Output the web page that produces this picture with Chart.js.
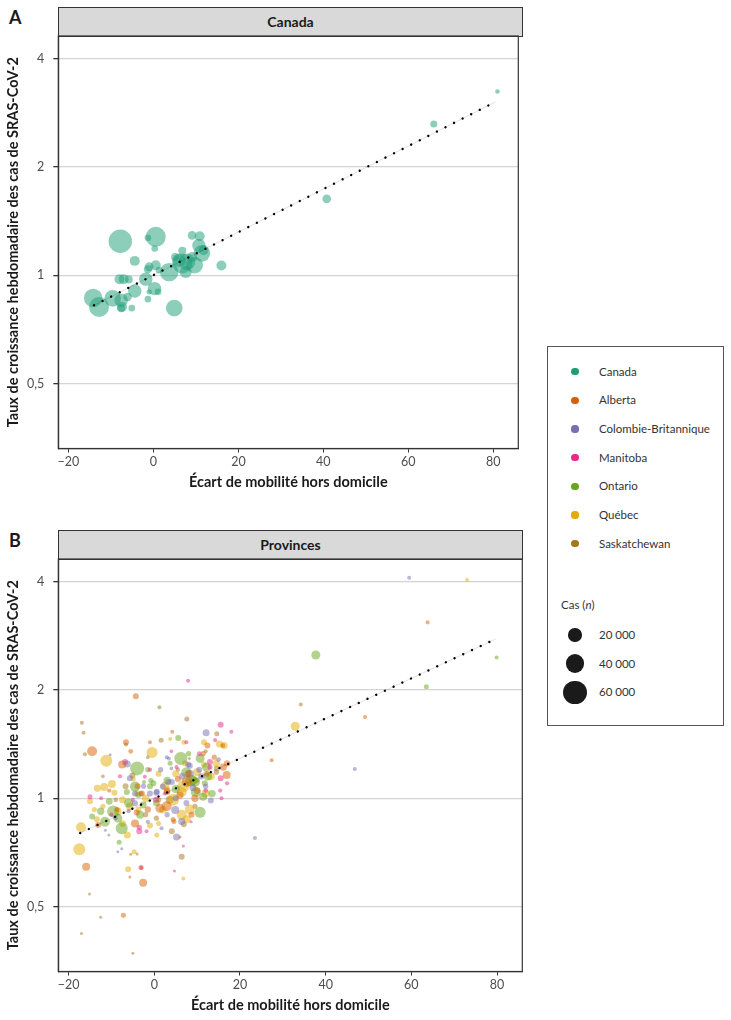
<!DOCTYPE html>
<html><head><meta charset="utf-8">
<script src="https://cdn.jsdelivr.net/npm/chart.js@4/dist/chart.umd.min.js"></script>
<style>
html,body{margin:0;padding:0;overflow:hidden;background:#fff;width:731px;height:1020px;font-family:Lato,"Open Sans",sans-serif;}
.abs{position:absolute;}
.letter{font-weight:bold;font-size:18px;color:#1a1a1a;line-height:20px;}
.strip{background:#d9d9d9;border:1px solid #333;box-sizing:border-box;text-align:center;font-weight:bold;font-size:14px;color:#1a1a1a;}
.lg{position:absolute;left:547px;top:346px;width:177px;height:380px;border:1px solid #555;box-sizing:border-box;}
.lt{position:absolute;font-size:11.5px;color:#333;line-height:16px;white-space:nowrap;}
.dot{position:absolute;border-radius:50%;}
</style></head>
<body>
<div class="abs letter" style="left:9px;top:7px">A</div>
<div class="abs strip" style="left:58px;top:7px;width:465px;height:30px;line-height:28px">Canada</div>
<canvas id="cA" class="abs" style="left:0;top:16px" width="530" height="480"></canvas>

<div class="abs letter" style="left:9px;top:530px">B</div>
<div class="abs strip" style="left:58px;top:530px;width:465px;height:30px;line-height:28px">Provinces</div>
<canvas id="cB" class="abs" style="left:0;top:539px" width="530" height="481"></canvas>

<div class="lg"></div>
<div id="legend"></div>

<script>
// ---------- data ----------
const xTicks = [-20, 0, 20, 40, 60, 80];
const yTicks = [0.5, 1, 2, 4];
const regions = ['Canada', 'Alberta', 'Colombie-Britannique', 'Manitoba', 'Ontario', 'Québec', 'Saskatchewan'];
const sizeLegend = [20000, 40000, 60000];

// [mobility gap, weekly growth rate, cases]
const canadaPts = [
  [-7.8,1.243,61000],[0.55,1.278,44500],[-1.3,1.27,4900],[0.3,1.186,4900],[-4.4,1.096,11100],
  [-14.2,0.865,38000],[-12.8,0.816,44500],[-9.6,0.862,30700],[-7.6,0.852,20000],[-7.4,0.816,11100],
  [-6.1,0.87,8200],[-5.1,0.81,4900],[-8.0,0.975,11100],[-7.0,0.975,11100],[-5.8,0.973,7100],
  [-4.4,0.904,20000],[-1.8,0.975,20000],[-1.3,0.858,4900],[-1.0,1.055,9000],[0.55,1.066,11100],
  [0.25,0.918,20000],[1.1,0.899,4900],[-1.0,0.899,3200],[4.9,0.81,30700],[3.7,1.02,38000],
  [6.8,1.078,44500],[6.0,1.10,20000],[7.9,1.089,30700],[9.7,1.066,30700],[7.6,1.02,16000],
  [9.1,1.124,11100],[11.4,1.15,30700],[10.7,1.21,20000],[9.1,1.29,8200],[10.9,1.283,11100],
  [11.8,1.173,11100],[16.0,1.064,11100],[6.8,1.17,7100],[5.1,1.124,7100],[-1.3,1.039,7100],
  [1.3,1.033,4900],[-7.6,0.81,7100],[40.8,1.63,8200],[66.0,2.63,5500],[81.0,3.24,2400]
];
const albertaPts = [
  [-4.3,1.92,4000],[63.8,3.08,1800],[49.2,1.68,1800],[27.4,1.275,1800],[-14.5,1.35,11100],
  [-6.6,1.43,4000],[-7.5,1.24,7100],[4.2,1.53,1800],[-1.0,1.43,1800],[12.4,1.40,4000],
  [16.1,1.22,5500],[16.9,1.16,7100],[12.2,1.17,4000],[7.6,1.11,11100],[1.3,0.938,9000],
  [2.9,0.95,11100],[-3.9,1.08,4000],[-4.1,0.912,4000],[-13.1,0.843,4000],[4.6,0.861,2800],
  [8.7,0.899,4000],[-15.9,0.645,7100],[-2.6,0.582,7100],[-4.5,0.85,7100],[4.4,0.873,2800],
  [6.0,0.78,1000],[-3.0,0.64,1800],[-7.2,0.473,2800],[-2.9,1.03,4000],[7.9,1.17,5500],
  [11.4,1.33,3000],[17.0,1.25,4500],[10.0,1.05,5000],[6.0,1.02,6000],
  [3.0,1.05,5000],[9.5,1.00,6000],[5.5,1.13,4000],[14.0,1.30,3000],[-8.7,0.93,3000],
  [-1.5,0.93,4500],[1.0,0.99,3000],[-10.5,1.05,2000],[16.0,1.40,2500],[-5.5,1.35,2500]
];
const cbPts = [
  [59.5,4.1,1800],[46.8,1.206,1800],[23.5,0.775,1800],[-6.3,1.245,5500],[12.1,1.52,5500],
  [2.9,1.30,1800],[3.4,1.29,1800],[7.9,1.24,4000],[8.3,1.17,7100],[13.2,0.985,4000],
  [5.0,1.00,4000],[4.9,0.928,7100],[-1.0,1.03,4000],[0.5,1.035,4000],[3.3,1.11,4000],
  [-4.5,0.969,4000],[5.2,0.78,5500],[6.4,0.861,5500],[-7.6,0.724,1000],[-8.5,0.71,1000],
  [-10.6,0.79,1000],[-11.4,0.815,1000],[1.7,0.825,1800],[-10.3,1.32,1000],[-5.7,1.137,4000],
  [-4.5,1.03,4000],[0.6,1.043,4000],[2.0,1.077,4000],[4.1,1.11,4000],[4.0,1.21,1500],
  [8.3,1.23,4000],[11.0,1.15,4500],[9.0,1.07,5000],
  [-1.5,0.86,2000],[6.5,1.15,5000],[10.5,1.20,4000],[-2.5,1.08,3000],[3.0,0.90,3000],
  [-9.0,0.88,2000],[7.5,0.97,4000],[12.0,1.08,3000],[-6.0,0.92,2000],[1.5,1.20,3000],[15.0,1.28,2500]
];
const manitobaPts = [
  [7.9,2.12,1800],[-6.8,1.26,4000],[-2.2,1.147,1800],[7.5,1.43,1800],[15.5,1.60,4000],
  [18.0,1.53,1800],[5.2,1.22,1800],[13.0,1.26,4000],[15.5,1.137,4000],[0.4,0.99,4000],
  [-3.5,0.81,4000],[-1.8,0.81,1800],[6.8,0.737,1000],[4.7,0.628,1000],[-3.1,0.642,2800],
  [-15.0,1.01,2800],[-12.4,1.0,1800],[15.7,1.00,1800],[8.6,0.86,1000],[14.2,1.45,1800],
  [13.0,1.22,3000],[15.4,1.05,2000],[-3.5,0.83,3000],[-1.0,1.2,2000],
  [-5.0,0.99,2000],[10.5,1.33,2500],[2.5,1.03,2000],[-8.0,1.15,2000],[12.0,1.05,2500],
  [-10.0,0.90,2000],[4.0,1.35,1500],[17.0,1.10,2000]
];
const ontarioPts = [
  [37.7,2.5,9000],[79.9,2.46,1800],[63.5,2.04,2800],[-4.0,1.21,21800],[6.2,1.29,18800],
  [5.6,1.47,4000],[10.7,1.29,9000],[12.2,1.22,9000],[9.5,1.11,11100],[9.7,1.04,11100],
  [11.4,1.01,7100],[11.8,1.10,4000],[10.7,0.914,13500],[-0.2,1.10,4000],[-1.0,1.08,4000],
  [-2.4,1.11,1800],[-4.5,1.077,11100],[-6.4,1.04,4000],[-3.7,1.02,4000],[-2.6,0.958,5500],
  [-3.3,0.90,7100],[-9.6,0.918,16000],[-11.5,0.86,11100],[-7.6,0.825,16000],[-8.2,0.755,2800],
  [3.7,1.25,2800],[8.6,1.12,16000],[-0.8,1.12,3000],[-8.5,0.88,9000],
  [7.5,1.18,12000],[12.5,1.15,8000],[3.0,1.12,6000],[-6.0,0.97,9000],[-12.5,0.92,6000],
  [8.0,1.33,3000],[13.5,1.03,6000],[0.5,0.97,5000],[-1.5,1.20,3000],[5.0,1.06,8000],
  [-10.5,0.98,5000],[-14.5,0.89,4000]
];
const quebecPts = [
  [73.0,4.04,1800],[32.9,1.585,9000],[-11.2,1.27,16000],[-0.5,1.34,13500],[3.7,1.46,1800],
  [6.9,1.43,2800],[11.6,1.43,4000],[15.2,1.415,5500],[16.3,1.40,5500],[13.2,1.15,7100],
  [6.8,1.08,16000],[6.4,1.04,11100],[4.4,0.99,16000],[6.4,0.90,11100],[8.3,0.93,11100],
  [7.6,0.874,7100],[1.0,1.17,4000],[-4.9,1.13,2800],[-13.3,1.065,5500],[-11.7,1.075,7100],
  [-9.9,1.095,7100],[-9.3,1.035,4000],[-7.4,0.99,5500],[-4.0,1.03,4000],[-5.7,0.948,7100],
  [-3.7,0.93,4000],[-6.3,0.79,5500],[-17.1,0.83,11100],[-17.5,0.721,16000],[0.6,0.79,2800],
  [1.0,0.85,2800],[6.8,0.598,1800],[-6.1,0.635,4000],[-4.7,0.71,2800],[-13.4,0.874,4000],
  [7.2,1.25,4000],[11.6,1.24,4000],[-7.4,0.85,5000],[-14.0,0.93,3000],[2.0,0.93,6000],
  [9.0,1.12,9000],[12.0,1.03,8000],[2.5,1.08,9000],[-2.0,1.00,6000],[-8.5,0.92,6000],
  [-15.0,0.98,4000],[5.0,1.17,5000],[14.5,1.25,6000],[-1.0,0.84,4000],[10.0,1.18,7000],[-12.0,0.95,3000]
];
const saskPts = [
  [34.2,1.82,1800],[1.2,1.79,1800],[7.6,1.66,2800],[-16.9,1.62,1800],[-16.5,1.52,1800],
  [-16.2,1.325,1800],[-6.6,1.41,1800],[-5.1,1.156,4000],[1.6,1.45,2800],[14.6,1.51,2800],
  [14.6,1.21,4000],[3.6,0.99,7100],[3.0,1.04,4000],[-3.1,1.03,2800],[-6.7,1.08,4000],
  [4.1,0.81,4000],[6.4,0.688,4000],[-5.7,0.604,1000],[-5.5,0.699,1000],[-4.0,0.70,1000],
  [-15.1,0.542,1000],[-12.5,0.467,1000],[-17.0,0.421,1000],[-5.0,0.371,1000],[6.9,0.847,4000],
  [8.2,1.29,1000],[14.5,1.18,3000],[0.5,0.88,3000],
  [-9.0,0.99,2500],[10.0,1.12,2500],[5.5,1.20,2000],[-2.0,0.90,3000],[12.0,1.35,2000],
  [-12.0,1.15,1500],[-1.5,1.30,1500],[9.5,0.95,3000]
];
// fitted trend lines (end points)
const fitCanada = [[-14.0,0.825],[80.5,3.03]];
const fitProvinces = [[-17.3,0.80],[79.7,2.77]];
const xRange = [-22.4, 85.9];
const yRange = [0.33, 4.62];

// ---------- styles ----------
const palette = ['#1B9E77','#D95F02','#7570B3','#E7298A','#66A61E','#E6AB02','#A6761D'];
const FONT = 'Lato';
function rgba(hex, a){const n=parseInt(hex.slice(1),16);return `rgba(${n>>16&255},${n>>8&255},${n&255},${a})`;}
function rad(n){return Math.max(1.5, 6.7*Math.sqrt(n/20000));}

const borderPlugin = {
  id:'panelBorder',
  afterDatasetsDraw(chart){
    const {ctx, chartArea:a} = chart;
    ctx.save(); ctx.strokeStyle='#333'; ctx.lineWidth=1.2;
    ctx.strokeRect(a.left, a.top, a.right-a.left, a.bottom-a.top);
    ctx.restore();
  }
};

function makeChart(id, groups, fit, padTop){
  const ds = groups.map(g => ({
    type:'bubble',
    data: g.pts.map(p => ({x:p[0], y:p[1], r:rad(p[2])})),
    backgroundColor: rgba(g.color, 0.5), borderWidth:0, order:2
  }));
  const fitData = fit.map(p => ({x:p[0], y:p[1]}));
  ds.push({type:'line', data:fitData, borderColor:'rgba(0,0,0,0.12)', borderWidth:1, pointRadius:0, order:1});
  ds.push({type:'line', data:fitData, borderColor:'#000', borderWidth:2.4, borderDash:[0.01,9.6], borderCapStyle:'round', pointRadius:0, order:0});
  const canvas = document.getElementById(id);
  const plotH = 412.5;
  const xAxisH = canvas.height - padTop - plotH;
  return new Chart(canvas, {
    type:'bubble',
    data:{datasets:ds},
    options:{
      responsive:false, animation:false, devicePixelRatio:1, events:[],
      layout:{padding:{top:padTop, right:7.7, left:0, bottom:0}},
      plugins:{legend:{display:false}, tooltip:{enabled:false}},
      scales:{
        x:{
          type:'linear', min:xRange[0], max:xRange[1],
          afterBuildTicks: s => { s.ticks = xTicks.map(v => ({value:v})); s.min = xRange[0]; s.max = xRange[1]; },
          ticks:{callback: v => v < 0 ? '\u2212' + Math.abs(v) : String(v), color:'#4d4d4d', font:{family:FONT, size:12.5}, padding:2, maxRotation:0, autoSkip:false},
          grid:{drawOnChartArea:false, tickColor:'#333', tickLength:4},
          border:{color:'#333', width:1.2},
          title:{display:true, text:'Écart de mobilité hors domicile', color:'#1a1a1a', font:{family:FONT, size:14.5, weight:'bold'}, padding:{top:0, bottom:xAxisH-43}},
          afterFit: s => { s.height = xAxisH; s.paddingLeft=0; s.paddingRight=0; }
        },
        y:{
          type:'logarithmic', min:yRange[0], max:yRange[1],
          afterBuildTicks: s => { s.ticks = yTicks.map(v => ({value:v})); s.min = yRange[0]; s.max = yRange[1]; },
          ticks:{callback: v => String(v).replace('.', ','), color:'#4d4d4d', font:{family:FONT, size:12.5}, padding:9, autoSkip:false},
          grid:{color:'#d4d4d4', lineWidth:1.3, tickColor:'#333', tickLength:5},
          border:{color:'#333', width:1.2},
          title:{display:true, text:'Taux de croissance hebdomadaire des cas de SRAS-CoV-2', color:'#1a1a1a', font:{family:FONT, size:14.5, weight:'bold'}, padding:{top:5, bottom:0}},
          afterFit: s => { s.width = 58.3; s.paddingTop=0; s.paddingBottom=0; }
        }
      }
    },
    plugins:[borderPlugin]
  });
}

makeChart('cA', [{pts:canadaPts, color:palette[0]}], fitCanada, 20);
makeChart('cB', [
  {pts:albertaPts, color:palette[1]},
  {pts:cbPts, color:palette[2]},
  {pts:manitobaPts, color:palette[3]},
  {pts:ontarioPts, color:palette[4]},
  {pts:quebecPts, color:palette[5]},
  {pts:saskPts, color:palette[6]}
], fitProvinces, 20);

// ---------- legend ----------
const lg = document.getElementById('legend');
const itemY = [371.7, 400.3, 429, 457.6, 486.3, 515, 543.7];
regions.forEach((name, i) => {
  const d = document.createElement('div'); d.className='dot';
  d.style.cssText = `left:${575-3.6}px;top:${itemY[i]-3.6}px;width:7.2px;height:7.2px;background:${palette[i]}`;
  lg.appendChild(d);
  const t = document.createElement('div'); t.className='lt';
  t.style.cssText = `left:599px;top:${itemY[i]-8}px`; t.textContent = name;
  lg.appendChild(t);
});
const cas = document.createElement('div'); cas.className='lt';
cas.style.cssText='left:561px;top:597px'; cas.innerHTML='Cas (<i>n</i>)';
lg.appendChild(cas);
const sizeY = [635, 663.7, 692.3];
sizeLegend.forEach((n, i) => {
  const r = rad(n);
  const d = document.createElement('div'); d.className='dot';
  d.style.cssText = `left:${575-r}px;top:${sizeY[i]-r}px;width:${2*r}px;height:${2*r}px;background:#1a1a1a`;
  lg.appendChild(d);
  const t = document.createElement('div'); t.className='lt';
  t.style.cssText = `left:599px;top:${sizeY[i]-8}px`; t.textContent = n.toLocaleString('fr-FR').replace(/\s/g,' ');
  lg.appendChild(t);
});
</script>
</body></html>
